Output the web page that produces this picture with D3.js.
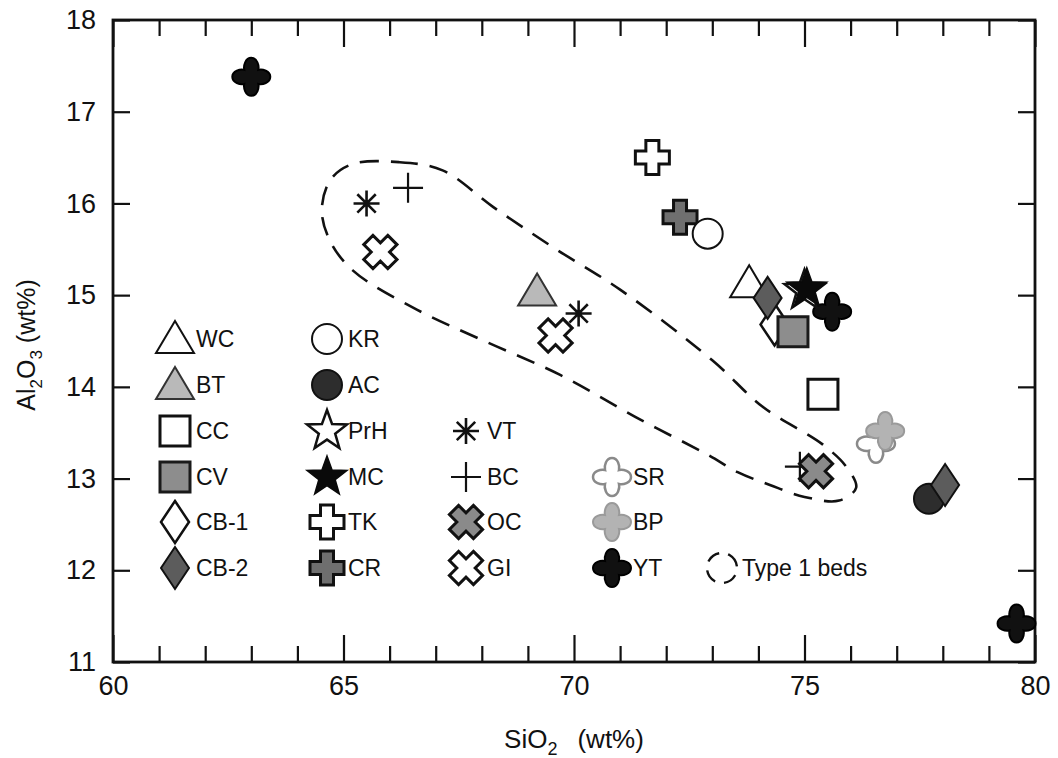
<!DOCTYPE html>
<html>
<head>
<meta charset="utf-8">
<script src="https://cdn.jsdelivr.net/npm/d3@7"></script>
<style>
  html, body { margin: 0; padding: 0; background: #fff; }
  svg { display: block; }
  text { font-family: Arial, "Liberation Sans", Helvetica, sans-serif; fill: #111; }
</style>
</head>
<body>
<svg id="chart" width="1058" height="758"></svg>
<script>
// ---- data -----------------------------------------------------------
// sample groups in legend order
const groups = ["WC", "BT", "CC", "CV", "CB-1", "CB-2",
                "KR", "AC", "PrH", "MC", "TK", "CR",
                "VT", "BC", "OC", "GI",
                "SR", "BP", "YT"];

// analyses (drawing order), group of each point
const pointGroup = ["YT", "TK", "CR", "KR", "VT", "BC", "GI", "BT", "GI", "VT",
                    "WC", "CB-1", "CV", "CB-2", "YT", "PrH", "MC", "CC",
                    "SR", "BP", "BC", "OC", "AC", "CB-2", "YT"];
const sio2 = [63.0, 71.7, 72.3, 72.9, 65.5, 66.4, 65.8, 69.2, 69.6, 70.1,
              73.8, 74.35, 74.75, 74.2, 75.6, 75.0, 75.05, 75.4,
              76.55, 76.75, 74.9, 75.25, 77.7, 78.05, 79.6];
const al2o3 = [17.38, 16.5, 15.85, 15.67, 16.0, 16.17, 15.47, 15.04, 14.56, 14.8,
               15.13, 14.68, 14.6, 14.97, 14.82, 15.05, 15.07, 13.92,
               13.38, 13.52, 13.13, 13.08, 12.78, 12.93, 11.42];

// outline around the Type 1 beds (SiO2, Al2O3 pairs along the curve)
const type1Sio2  = [65.2, 66.2, 67.15, 68.25, 69.55, 71.0, 73.0, 74.1, 75.4, 75.92,
                    76.12, 75.75, 75.0, 74.25, 73.55, 72.9, 71.45, 69.7, 68.1,
                    66.6, 65.2, 64.7, 64.53, 64.72];
const type1Al2o3 = [16.43, 16.45, 16.36, 15.96, 15.52, 15.06, 14.29, 13.78, 13.37, 13.12,
                    12.9, 12.76, 12.8, 12.93, 13.07, 13.26, 13.64, 14.13, 14.49,
                    14.84, 15.27, 15.6, 15.93, 16.26];

const xDomain = [60, 80];
const yDomain = [11, 18];
const xMajorTicks = [60, 65, 70, 75, 80];
const xMinorTicks = d3.range(61, 80).filter(v => v % 5 !== 0);
const yTicks = [11, 12, 13, 14, 15, 16, 17, 18];

// ---- layout ---------------------------------------------------------
const svg = d3.select("#chart");
const L = 113, R = 1035, T = 20, B = 662;
const x = d3.scaleLinear().domain(xDomain).range([L, R]);
const y = d3.scaleLinear().domain(yDomain).range([B, T]);

// ---- marker shapes (pixel units, centred on 0,0) ---------------------
function starPath(ro, ri) {
  const pts = [];
  for (let i = 0; i < 10; i++) {
    const a = -Math.PI / 2 + i * Math.PI / 5;
    const r = i % 2 ? ri : ro;
    pts.push([r * Math.cos(a), r * Math.sin(a)]);
  }
  return "M" + pts.map(p => p[0].toFixed(2) + "," + p[1].toFixed(2)).join("L") + "Z";
}
function fourStarPath(R, c) {
  // four-armed star: full body, tapering arms with rounded tips
  let d = "";
  const f = p => p[0].toFixed(2) + "," + p[1].toFixed(2);
  for (let k = 0; k < 4; k++) {
    const ang = k * Math.PI / 2;
    const rot = (px, py) => [px * Math.cos(ang) - py * Math.sin(ang), px * Math.sin(ang) + py * Math.cos(ang)];
    const p0 = rot(c, -c), c1 = rot(c + 4, -c - 1), c2 = rot(R, -c + 1), tip = rot(R, 0),
          c3 = rot(R, c - 1), c4 = rot(c + 4, c + 1), p1 = rot(c, c);
    d += (k === 0 ? "M" + f(p0) : "") + "C" + f(c1) + " " + f(c2) + " " + f(tip) +
         "C" + f(c3) + " " + f(c4) + " " + f(p1);
  }
  return d + "Z";
}
const crossPath = "M-6.5,-17H6.5V-6.5H17V6.5H6.5V17H-6.5V6.5H-17V-6.5H-6.5Z";
const shapes = {
  triangle: "M0,-18L19,14L-19,14Z",
  square: "M-15,-15H15V15H-15Z",
  circle: "M15,0A15,15 0 1,1 -15,0A15,15 0 1,1 15,0Z",
  star: starPath(21, 8.6),
  diamond: "M0,-21L14,0L0,21L-14,0Z",
  cross: crossPath,
  asterisk: "M0,-13V13M-13,0H13M-9.2,-9.2L9.2,9.2M-9.2,9.2L9.2,-9.2",
  plus: "M0,-15V15M-15,0H15",
  fourStar: fourStarPath(19, 7)
};

const style = {
  "WC":   { shape: "triangle", fill: "#fff",    stroke: "#111", sw: 2 },
  "BT":   { shape: "triangle", fill: "#b9b9b9", stroke: "#333", sw: 2 },
  "CC":   { shape: "square",   fill: "#fff",    stroke: "#111", sw: 3 },
  "CV":   { shape: "square",   fill: "#8d8d8d", stroke: "#1a1a1a", sw: 3 },
  "CB-1": { shape: "diamond",  fill: "#fff",    stroke: "#111", sw: 2.5 },
  "CB-2": { shape: "diamond",  fill: "#5c5c5c", stroke: "#111", sw: 2 },
  "KR":   { shape: "circle",   fill: "#fff",    stroke: "#111", sw: 2 },
  "AC":   { shape: "circle",   fill: "#2d2d2d", stroke: "#111", sw: 2 },
  "PrH":  { shape: "star",     fill: "#fff",    stroke: "#111", sw: 2.5 },
  "MC":   { shape: "star",     fill: "#0a0a0a", stroke: "#0a0a0a", sw: 1.5 },
  "TK":   { shape: "cross",    fill: "#fff",    stroke: "#111", sw: 3 },
  "CR":   { shape: "cross",    fill: "#6f6f6f", stroke: "#111", sw: 3 },
  "VT":   { shape: "asterisk", fill: "none",    stroke: "#111", sw: 2.6 },
  "BC":   { shape: "plus",     fill: "none",    stroke: "#111", sw: 2.2 },
  "OC":   { shape: "cross",    fill: "#8a8a8a", stroke: "#111", sw: 3, rot: 45 },
  "GI":   { shape: "cross",    fill: "#fff",    stroke: "#111", sw: 3, rot: 45 },
  "SR":   { shape: "fourStar", fill: "#fff",    stroke: "#8a8a8a", sw: 2.5 },
  "BP":   { shape: "fourStar", fill: "#b3b3b3", stroke: "#9a9a9a", sw: 2 },
  "YT":   { shape: "fourStar", fill: "#111",    stroke: "#000", sw: 2 }
};

function drawMarker(g, name, cx, cy) {
  const s = style[name];
  g.append("path")
    .attr("d", shapes[s.shape])
    .attr("transform", `translate(${cx},${cy})` + (s.rot ? ` rotate(${s.rot})` : ""))
    .attr("fill", s.fill)
    .attr("stroke", s.stroke)
    .attr("stroke-width", s.sw)
    .attr("stroke-linejoin", "miter");
}

// ---- axes -----------------------------------------------------------
const axisG = svg.append("g");
function styleAxis(g) {
  g.select(".domain").remove();
  g.selectAll(".tick line").attr("stroke", "#111").attr("stroke-width", 2.2);
  g.selectAll(".tick text").style("font-size", "27px").attr("fill", "#111");
}
// bottom
axisG.append("g").attr("transform", `translate(0,${B})`)
  .call(d3.axisBottom(x).tickValues(xMajorTicks).tickSize(-27).tickPadding(14).tickFormat(d3.format("d")))
  .call(styleAxis);
axisG.append("g").attr("transform", `translate(0,${B})`)
  .call(d3.axisBottom(x).tickValues(xMinorTicks).tickSize(-16).tickFormat(""))
  .call(styleAxis);
// top
axisG.append("g").attr("transform", `translate(0,${T})`)
  .call(d3.axisTop(x).tickValues(xMajorTicks).tickSize(-27).tickFormat(""))
  .call(styleAxis);
axisG.append("g").attr("transform", `translate(0,${T})`)
  .call(d3.axisTop(x).tickValues(xMinorTicks).tickSize(-16).tickFormat(""))
  .call(styleAxis);
// left
axisG.append("g").attr("transform", `translate(${L},0)`)
  .call(d3.axisLeft(y).tickValues(yTicks).tickSize(-17).tickPadding(17).tickFormat(d3.format("d")))
  .call(styleAxis);
// right
axisG.append("g").attr("transform", `translate(${R},0)`)
  .call(d3.axisRight(y).tickValues(yTicks).tickSize(-17).tickFormat(""))
  .call(styleAxis);
// frame
svg.append("rect")
  .attr("x", L).attr("y", T).attr("width", R - L).attr("height", B - T)
  .attr("fill", "none").attr("stroke", "#111").attr("stroke-width", 2.8);

// axis titles
const xt = svg.append("text").attr("x", (L + R) / 2).attr("y", 748)
  .attr("text-anchor", "middle").style("font-size", "26px");
xt.append("tspan").text("SiO");
xt.append("tspan").text("2").attr("dy", 7).style("font-size", "18px");
xt.append("tspan").text("(wt%)").attr("dy", -7).attr("dx", 20);

const yt = svg.append("text").attr("transform", `translate(35,${(T + B) / 2 + 4}) rotate(-90)`)
  .attr("text-anchor", "middle").style("font-size", "25px");
yt.append("tspan").text("Al");
yt.append("tspan").text("2").attr("dy", 7).style("font-size", "17px");
yt.append("tspan").text("O").attr("dy", -7);
yt.append("tspan").text("3").attr("dy", 7).style("font-size", "17px");
yt.append("tspan").text(" (wt%)").attr("dy", -7);

// ---- Type 1 beds outline ------------------------------------------------
const outline = type1Sio2.map((v, i) => [x(v), y(type1Al2o3[i])]);
svg.append("path")
  .attr("d", d3.line().curve(d3.curveCatmullRomClosed.alpha(0.5))(outline))
  .attr("fill", "none").attr("stroke", "#111").attr("stroke-width", 2.6)
  .attr("stroke-dasharray", "19,12");

// ---- data points ------------------------------------------------------
const pts = svg.append("g");
pointGroup.forEach((gname, i) => drawMarker(pts, gname, x(sio2[i]), y(al2o3[i])));

// ---- legend -------------------------------------------------------------
const legendCols = [175, 327, 466, 612];
const legendRows = [339, 385, 431, 477, 522, 568];
const legendPos = {
  "WC": [0, 0], "BT": [0, 1], "CC": [0, 2], "CV": [0, 3], "CB-1": [0, 4], "CB-2": [0, 5],
  "KR": [1, 0], "AC": [1, 1], "PrH": [1, 2], "MC": [1, 3], "TK": [1, 4], "CR": [1, 5],
  "VT": [2, 2], "BC": [2, 3], "OC": [2, 4], "GI": [2, 5],
  "SR": [3, 3], "BP": [3, 4], "YT": [3, 5]
};
const leg = svg.append("g");
groups.forEach(name => {
  const [c, r] = legendPos[name];
  const cx = legendCols[c], cy = legendRows[r];
  drawMarker(leg, name, cx, cy);
  leg.append("text").attr("x", cx + 21).attr("y", cy).attr("dy", "0.36em")
    .style("font-size", "23px").text(name);
});
// outline key
leg.append("circle").attr("cx", 722).attr("cy", legendRows[5]).attr("r", 15)
  .attr("fill", "none").attr("stroke", "#111").attr("stroke-width", 2.4)
  .attr("stroke-dasharray", "14,9").attr("transform", `rotate(-60,722,${legendRows[5]})`);
leg.append("text").attr("x", 742).attr("y", legendRows[5]).attr("dy", "0.36em")
  .style("font-size", "23px").text("Type 1 beds");
</script>
</body>
</html>
